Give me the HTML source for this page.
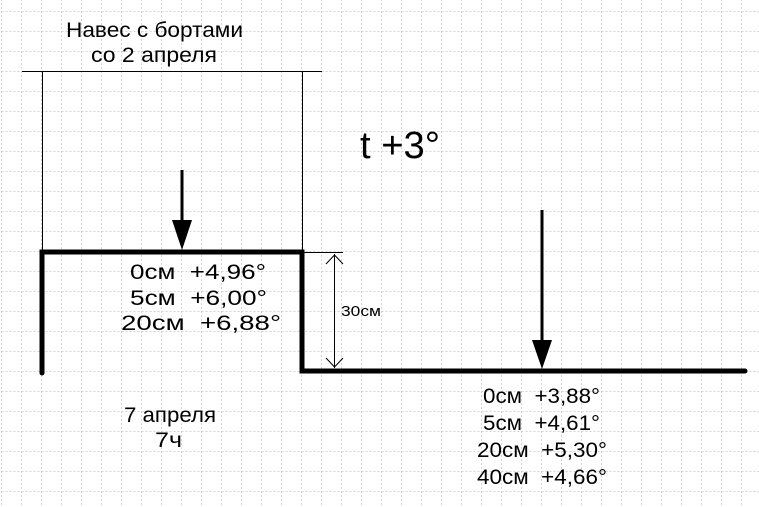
<!DOCTYPE html>
<html><head><meta charset="utf-8"><style>
html,body{margin:0;padding:0;background:#fff;}
svg{display:block;}
text{font-family:"Liberation Sans",sans-serif;fill:#000;}
</style></head><body>
<svg width="759" height="507" viewBox="0 0 759 507" xmlns="http://www.w3.org/2000/svg">
<defs>
<pattern id="g" x="1.5" y="11" width="20" height="20" patternUnits="userSpaceOnUse">
<path d="M0 0V20M0 0H20" stroke="#a8a8a8" stroke-width="1" stroke-dasharray="2,2" fill="none"/>
</pattern>
</defs>
<rect width="759" height="507" fill="#fff"/>
<rect width="759" height="507" fill="url(#g)"/>
<line x1="22" y1="71.5" x2="322" y2="71.5" stroke="#000" stroke-width="1"/>
<line x1="42.5" y1="71" x2="42.5" y2="252" stroke="#000" stroke-width="1"/>
<line x1="302.5" y1="71" x2="302.5" y2="252" stroke="#000" stroke-width="1"/>
<polyline points="42,373 42,252 302,252 302,371 745,371" fill="none" stroke="#000" stroke-width="5" stroke-linecap="round"/>
<line x1="302" y1="252.5" x2="343" y2="252.5" stroke="#000" stroke-width="1"/>
<line x1="334.5" y1="254" x2="334.5" y2="368" stroke="#000" stroke-width="1"/>
<polyline points="326,264 334.5,255 343,264" fill="none" stroke="#000" stroke-width="1"/>
<polyline points="326,358 334.5,367 343,358" fill="none" stroke="#000" stroke-width="1"/>
<text x="341" y="316" font-size="15" textLength="40" lengthAdjust="spacingAndGlyphs">30см</text>
<line x1="182" y1="170" x2="182" y2="224" stroke="#000" stroke-width="3"/>
<polygon points="172,220 192,220 182,250" fill="#000"/>
<line x1="542" y1="210" x2="542" y2="345" stroke="#000" stroke-width="3"/>
<polygon points="532,340 552,340 542,369" fill="#000"/>
<text x="66" y="37" font-size="21" textLength="177" lengthAdjust="spacingAndGlyphs">Навес с бортами</text>
<text x="91" y="62" font-size="21" textLength="126" lengthAdjust="spacingAndGlyphs">со 2 апреля</text>
<text x="360" y="158" font-size="38" textLength="80" lengthAdjust="spacingAndGlyphs">t +3°</text>
<text x="130" y="279" font-size="21" xml:space="preserve" textLength="136" lengthAdjust="spacingAndGlyphs">0см  +4,96°</text>
<text x="130" y="305" font-size="21" xml:space="preserve" textLength="137" lengthAdjust="spacingAndGlyphs">5см  +6,00°</text>
<text x="121" y="330" font-size="21" xml:space="preserve" textLength="160" lengthAdjust="spacingAndGlyphs">20см  +6,88°</text>
<text x="124" y="422" font-size="21" textLength="92" lengthAdjust="spacingAndGlyphs">7 апреля</text>
<text x="155" y="447" font-size="21" textLength="27" lengthAdjust="spacingAndGlyphs">7ч</text>
<text x="483" y="403" font-size="21" xml:space="preserve" textLength="117" lengthAdjust="spacingAndGlyphs">0см  +3,88°</text>
<text x="483" y="430" font-size="21" xml:space="preserve" textLength="117" lengthAdjust="spacingAndGlyphs">5см  +4,61°</text>
<text x="477" y="457" font-size="21" xml:space="preserve" textLength="130" lengthAdjust="spacingAndGlyphs">20см  +5,30°</text>
<text x="477" y="484" font-size="21" xml:space="preserve" textLength="130" lengthAdjust="spacingAndGlyphs">40см  +4,66°</text>
</svg>
</body></html>
